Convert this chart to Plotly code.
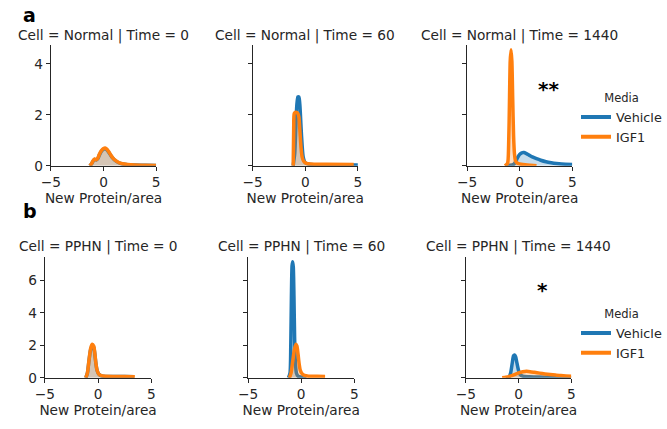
import plotly.graph_objects as go

W, H = 667, 429

# ---------------- data (density curves) ----------------
panel_titles = ["Cell = Normal | Time = 0", "Cell = Normal | Time = 60", "Cell = Normal | Time = 1440",
                "Cell = PPHN | Time = 0", "Cell = PPHN | Time = 60", "Cell = PPHN | Time = 1440"]
media = ["Vehicle", "IGF1"]

# Normal, Time 0
n0_veh_x = [-1.3, -1.15, -1.0, -0.85, -0.7, -0.55, -0.4, -0.2, 0.0, 0.15, 0.3, 0.5, 0.7, 0.9, 1.1, 1.4, 1.8, 2.3, 3.0, 4.0, 5.0]
n0_veh_y = [0.0, 0.07, 0.18, 0.25, 0.23, 0.28, 0.42, 0.57, 0.65, 0.67, 0.63, 0.52, 0.4, 0.29, 0.21, 0.13, 0.07, 0.045, 0.03, 0.02, 0.015]
n0_igf_x = [-1.3, -1.15, -1.0, -0.85, -0.7, -0.55, -0.4, -0.2, 0.0, 0.15, 0.3, 0.5, 0.7, 0.9, 1.1, 1.4, 1.8, 2.3, 3.0, 4.0, 5.0]
n0_igf_y = [0.0, 0.08, 0.2, 0.27, 0.24, 0.3, 0.45, 0.6, 0.68, 0.7, 0.66, 0.55, 0.42, 0.3, 0.22, 0.14, 0.08, 0.05, 0.03, 0.02, 0.015]

# Normal, Time 60
n60_veh_x = [-1.15, -1.0, -0.9, -0.8, -0.7, -0.6, -0.5, -0.4, -0.3, -0.2, 0.0, 0.5, 2.0, 5.0]
n60_veh_y = [0.0, 0.5, 1.5, 2.4, 2.7, 2.7, 2.3, 1.5, 0.8, 0.35, 0.12, 0.05, 0.04, 0.03]
n60_igf_x = [-1.15, -1.1, -1.05, -0.9, -0.7, -0.6, -0.5, -0.4, -0.3, -0.15, 0.1, 0.5, 2.0, 4.6]
n60_igf_y = [0.0, 1.5, 2.05, 2.1, 2.05, 1.9, 1.3, 0.7, 0.35, 0.18, 0.1, 0.07, 0.06, 0.05]

# Normal, Time 1440
n1440_veh_x = [-1.4, -1.0, -0.6, -0.4, -0.2, 0.0, 0.2, 0.4, 0.6, 0.9, 1.2, 1.6, 2.0, 2.5, 3.0, 3.5, 4.0, 5.0]
n1440_veh_y = [0.0, 0.02, 0.05, 0.15, 0.32, 0.45, 0.51, 0.52, 0.49, 0.42, 0.35, 0.28, 0.22, 0.16, 0.12, 0.09, 0.07, 0.05]
n1440_igf_x = [-1.4, -1.15, -1.05, -0.97, -0.9, -0.82, -0.74, -0.66, -0.58, -0.5, -0.4, -0.2, 0.3, 1.0, 1.6]
n1440_igf_y = [0.0, 0.1, 0.8, 2.5, 4.1, 4.55, 4.1, 2.6, 1.2, 0.5, 0.2, 0.1, 0.05, 0.02, 0.0]

# PPHN, Time 0
p0_veh_x = [-1.15, -1.0, -0.85, -0.7, -0.55, -0.4, -0.3, -0.2, -0.1, 0.05, 0.3, 0.7, 1.5, 2.5, 3.4]
p0_veh_y = [0.0, 0.28, 1.05, 1.72, 1.98, 1.87, 1.44, 0.86, 0.48, 0.24, 0.12, 0.085, 0.075, 0.075, 0.065]
p0_igf_x = [-1.15, -1.0, -0.85, -0.7, -0.55, -0.4, -0.3, -0.2, -0.1, 0.05, 0.3, 0.7, 1.5, 2.5, 3.45]
p0_igf_y = [0.0, 0.3, 1.1, 1.8, 2.07, 1.95, 1.5, 0.9, 0.5, 0.25, 0.13, 0.09, 0.08, 0.08, 0.07]

# PPHN, Time 60
p60_veh_x = [-1.2, -1.05, -0.98, -0.92, -0.86, -0.8, -0.74, -0.68, -0.62, -0.55, -0.45, -0.3, 0.0, 0.5]
p60_veh_y = [0.0, 0.3, 2.0, 5.0, 6.9, 7.15, 6.8, 5.0, 2.5, 1.0, 0.3, 0.1, 0.05, 0.0]
p60_igf_x = [-1.1, -0.95, -0.8, -0.65, -0.5, -0.4, -0.3, -0.2, -0.1, 0.05, 0.3, 0.7, 1.5, 2.25]
p60_igf_y = [0.0, 0.3, 1.0, 1.7, 2.07, 1.95, 1.5, 0.9, 0.5, 0.28, 0.15, 0.1, 0.09, 0.08]

# PPHN, Time 1440
p1440_veh_x = [-1.2, -0.9, -0.75, -0.6, -0.48, -0.38, -0.28, -0.15, 0.0, 0.15, 0.4, 1.0, 2.0, 3.0, 4.0, 5.0]
p1440_veh_y = [0.0, 0.05, 0.3, 0.9, 1.35, 1.41, 1.3, 0.9, 0.45, 0.2, 0.1, 0.07, 0.05, 0.03, 0.02, 0.01]
p1440_igf_x = [-1.55, -1.2, -0.8, -0.4, 0.0, 0.4, 0.75, 1.1, 1.5, 2.0, 2.5, 3.0, 3.5, 4.0, 4.5, 5.0]
p1440_igf_y = [0.0, 0.03, 0.1, 0.2, 0.3, 0.37, 0.4, 0.38, 0.34, 0.29, 0.24, 0.2, 0.17, 0.14, 0.12, 0.1]

curves = [
    ((n0_veh_x, n0_veh_y), (n0_igf_x, n0_igf_y)),
    ((n60_veh_x, n60_veh_y), (n60_igf_x, n60_igf_y)),
    ((n1440_veh_x, n1440_veh_y), (n1440_igf_x, n1440_igf_y)),
    ((p0_veh_x, p0_veh_y), (p0_igf_x, p0_igf_y)),
    ((p60_veh_x, p60_veh_y), (p60_igf_x, p60_igf_y)),
    ((p1440_veh_x, p1440_veh_y), (p1440_igf_x, p1440_igf_y)),
]

x_ticks = [-5, 0, 5]
row_y_ticks = [[0, 2, 4], [0, 2, 4, 6]]
row_y_max = [4.73, 7.43]
significance = ["**", "*"]
panel_letters = ["a", "b"]

# ---------------- styling / layout ----------------
line_colors = ["#1f77b4", "#ff7f0e"]
fill_colors = ["rgba(31,119,180,0.25)", "rgba(255,127,14,0.25)"]
TXT = "#262626"
FONT = "DejaVu Sans"

# pixel geometry of the plot areas: (left, right) per panel, (bottom, top) per row
col_px = [[(42, 150), (249, 357), (469, 577)],
          [(35.7, 145), (244.3, 353.3), (467.7, 576)]]
row_px = [(169, 46), (385, 262)]


def fx(p):
    return p / W


def fy(p):
    return 1 - p / H


fig = go.Figure()
layout = {}
annotations = []

for r in range(2):
    for c in range(3):
        k = r * 3 + c
        idx = "" if k == 0 else str(k + 1)
        xa, ya = "x" + idx, "y" + idx
        for m in range(2):
            xs, ys = curves[k][m]
            fig.add_trace(go.Scatter(
                x=xs, y=ys, mode="lines", name=media[m], xaxis=xa, yaxis=ya,
                line=dict(color=line_colors[m], width=3.5, shape="spline", smoothing=0.6),
                fill="tozeroy", fillcolor=fill_colors[m],
                showlegend=False, hoverinfo="skip"))
        if c == 2:
            # legend-only entries (line sample without fill)
            for m in range(2):
                fig.add_trace(go.Scatter(
                    x=[None], y=[None], mode="lines", name=media[m], xaxis=xa, yaxis=ya,
                    line=dict(color=line_colors[m], width=4),
                    showlegend=True, legend="legend" if r == 0 else "legend2"))
        l, rr = col_px[r][c]
        b, t = row_px[r]
        layout["xaxis" + idx] = dict(
            domain=[fx(l), fx(rr)], anchor=ya, range=[-5, 5], tickvals=x_ticks,
            showline=True, linecolor=TXT, linewidth=1.2, ticks="outside", ticklen=4,
            tickwidth=1.2, tickcolor=TXT, showgrid=False, zeroline=False,
            tickfont=dict(family=FONT, size=13.7, color=TXT),
            title=dict(text="New Protein/area", font=dict(family=FONT, size=13.7, color=TXT), standoff=2))
        layout["yaxis" + idx] = dict(
            domain=[fy(b), fy(t)], anchor=xa, range=[0, row_y_max[r]], tickvals=row_y_ticks[r],
            showline=True, linecolor=TXT, linewidth=1.2, ticks="outside", ticklen=4,
            tickwidth=1.2, tickcolor=TXT, showgrid=False, zeroline=False,
            showticklabels=(c == 0),
            tickfont=dict(family=FONT, size=13.7, color=TXT))
        annotations.append(dict(
            text=panel_titles[k], x=fx((l + rr) / 2), y=fy(36 if r == 0 else 251),
            xref="paper", yref="paper", xanchor="center", yanchor="middle", showarrow=False,
            font=dict(family=FONT, size=13.7, color=TXT)))

# panel letters
for r, (letter, ypx) in enumerate(zip(panel_letters, [15, 215])):
    annotations.append(dict(text="<b>%s</b>" % letter, x=fx(11), y=fy(ypx), xref="paper", yref="paper",
                            xanchor="left", yanchor="middle", showarrow=False,
                            font=dict(family=FONT, size=19, color="black")))

# significance stars (placed in data coords of the right-hand panels)
annotations.append(dict(text="<b>%s</b>" % significance[0], x=2.7, y=3.0, xref="x3", yref="y3",
                        xanchor="center", yanchor="middle", showarrow=False,
                        font=dict(family=FONT, size=20, color="black")))
annotations.append(dict(text="<b>%s</b>" % significance[1], x=2.3, y=5.4, xref="x6", yref="y6",
                        xanchor="center", yanchor="middle", showarrow=False,
                        font=dict(family=FONT, size=20, color="black")))

leg_common = dict(
    xanchor="left", yanchor="top", bgcolor="rgba(0,0,0,0)", borderwidth=0,
    font=dict(family=FONT, size=12.8, color=TXT),
    title=dict(text="Media", side="top center", font=dict(family=FONT, size=11.5, color=TXT)),
    tracegroupgap=0, itemwidth=30)

fig.update_layout(
    width=W, height=H, margin=dict(l=0, r=0, t=0, b=0),
    paper_bgcolor="white", plot_bgcolor="white",
    annotations=annotations,
    legend=dict(x=fx(581), y=fy(89), **leg_common),
    legend2=dict(x=fx(581), y=fy(309), **leg_common),
    **layout)

fig.write_html("out.html")
